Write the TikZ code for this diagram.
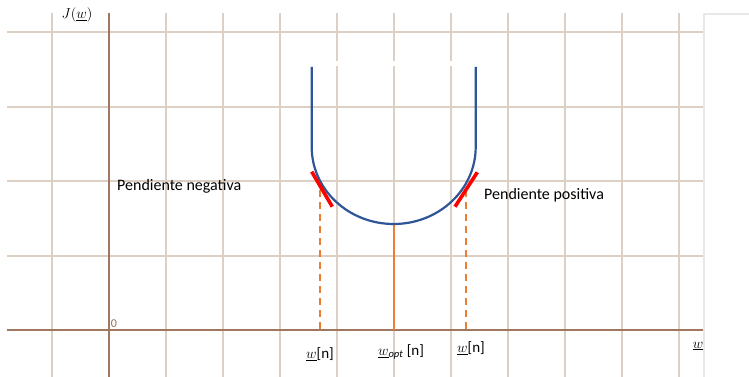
\documentclass[tikz,border=0pt]{standalone}
\usepackage{fontspec}
\setmainfont{Carlito}
\begin{document}
\begin{tikzpicture}[x=1pt,y={(0pt,-1pt)},
  gridline/.style={draw={rgb,255:red,220;green,208;blue,196},line width=1.1pt},
  axisline/.style={draw={rgb,255:red,160;green,120;blue,95},line width=1.5pt},
  curveline/.style={draw={rgb,255:red,47;green,85;blue,151},line width=2.2pt},
  tangent/.style={draw={rgb,255:red,255;green,0;blue,0},line width=3.6pt},
  guide/.style={draw={rgb,255:red,237;green,125;blue,49},line width=1.8pt},
  lbl/.style={font=\fontsize{16}{18}\selectfont,inner sep=0pt},
  mlbl/.style={font=\fontsize{15}{17}\selectfont,inner sep=0pt}]
\useasboundingbox[fill=white] (0,0) rectangle (749,377);
% grid
\foreach \x in {52,166,223,280,337,394,451,508,565,622,679}
  \draw[gridline] (\x,13) -- (\x,377);
\foreach \y in {32,107,181,256}
  \draw[gridline] (7,\y) -- (703,\y);
% small gaps in grid near curve top
\foreach \x in {337,394,451}
  \fill[white] (\x-2,61) rectangle (\x+2,66);
% panel border right
\draw[draw={rgb,255:red,232;green,232;blue,232},line width=1.5pt] (749,14) -- (704,14) -- (704,377);
% axes
\draw[axisline] (7,330) -- (703,330);
\draw[axisline] (109,13) -- (109,377);
% guides
\draw[guide,dash pattern=on 7pt off 5pt] (320,190) -- (320,330);
\draw[guide,dash pattern=on 7pt off 5pt] (466,190) -- (466,330);
\draw[guide] (394,225) -- (394,330);
% curve
\draw[curveline] (311.7,67) -- (311.7,147) arc[start angle=180,end angle=0,x radius=82,y radius=77] -- (475.7,67);
% tangents
\draw[tangent] (311.7,171.7) -- (332.3,206.7);
\draw[tangent] (477.3,172.3) -- (455,206.7);
% labels
\node[mlbl] (jw) at (77,15) {$J(\underline{w})$};
\node[font=\fontsize{12}{13}\selectfont,text={rgb,255:red,150;green,110;blue,85},inner sep=0pt] (zero) at (114,324) {0};
\node[lbl,anchor=west] (neg) at (117,186) {Pendiente negativa};
\node[lbl,anchor=west] (pos) at (484,195) {Pendiente positiva};
\node[mlbl] (wl) at (320,354) {$\underline{w}$[n]};
\node[mlbl] (wopt) at (401,352) {$\underline{w}_{\mathit{opt}}$ [n]};
\node[mlbl] (wr) at (471,348) {$\underline{w}$[n]};
\node[mlbl] (wx) at (698,346) {$\underline{w}$};
\end{tikzpicture}
\end{document}
